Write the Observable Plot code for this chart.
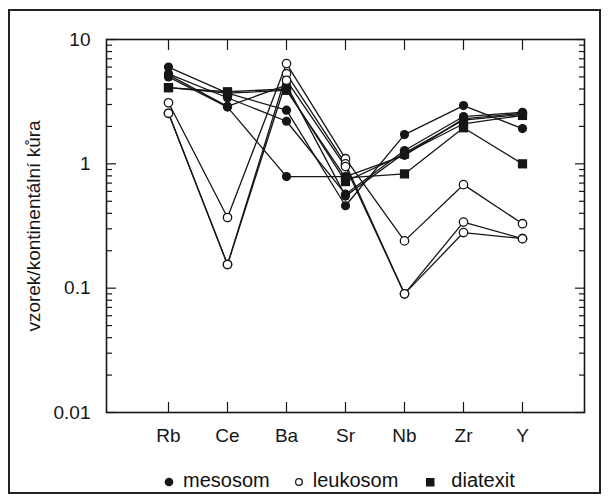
<!DOCTYPE html>
<html><head><meta charset="utf-8">
<script src="https://cdn.jsdelivr.net/npm/d3@7"></script>
<script src="https://cdn.jsdelivr.net/npm/@observablehq/plot@0.6"></script>
<style>
body{margin:0;background:#fff;font-family:"Liberation Sans",Arial,sans-serif;}
#wrap{position:relative;width:608px;height:500px;overflow:hidden;background:#fff;}
#border{position:absolute;left:8px;top:9px;width:589px;height:481px;border:2px solid #222;pointer-events:none;}
#legend{position:absolute;top:470px;left:164px;display:flex;align-items:center;font-size:20px;line-height:20px;color:#111;white-space:nowrap;}
#legend svg{display:block;}
</style></head>
<body><div id="wrap"><div id="chart"></div><div id="legend"></div><div id="border"></div></div>
<script>
const elements = ["Rb","Ce","Ba","Sr","Nb","Zr","Y"];

// mesosom samples
const mesosom1 = [6.0, 3.7, 2.7, 0.46, 1.72, 2.94, 1.92];
const mesosom2 = [5.3, 3.4, 2.2, 0.57, 1.28, 2.4, 2.6];
const mesosom3 = [5.2, 2.9, 4.3, 0.55, 1.22, 2.25, 2.5];
const mesosom4 = [5.0, 2.86, 0.79, 0.79, 1.17, 2.3, 2.55];
// leukosom samples
const leukosom1 = [3.1, 0.37, 6.4, 1.1, 0.24, 0.68, 0.33];
const leukosom2 = [2.55, 0.155, 5.3, 1.0, 0.09, 0.34, 0.25];
const leukosom3 = [2.55, 0.155, 4.7, 0.95, 0.09, 0.28, 0.25];
// diatexit samples
const diatexit1 = [4.1, 3.8, 4.0, 0.72, 1.2, 2.1, 2.45];
const diatexit2 = [4.1, 3.7, 3.9, 0.77, 0.83, 1.95, 1.0];

const yMajorTicks = [0.01, 0.1, 1, 10];
const yMinorTicks = [0.02,0.03,0.04,0.05,0.06,0.07,0.08,0.09,0.2,0.3,0.4,0.5,0.6,0.7,0.8,0.9,2,3,4,5,6,7,8,9];
const yLabel = "vzorek/kontinentální kůra";
const legendLabels = ["mesosom","leukosom","diatexit"];

const samples = [
  ["M1","mesosom",mesosom1],["M2","mesosom",mesosom2],["M3","mesosom",mesosom3],["M4","mesosom",mesosom4],
  ["L1","leukosom",leukosom1],["L2","leukosom",leukosom2],["L3","leukosom",leukosom3],
  ["D1","diatexit",diatexit1],["D2","diatexit",diatexit2]
];
const rows = samples.flatMap(([id, type, vals]) => vals.map((v, i) => ({id, type, el: elements[i], v})));

const ink = "#161616";
const plot = Plot.plot({
  width: 608, height: 460,
  marginLeft: 106, marginRight: 24, marginTop: 39, marginBottom: 48,
  style: {fontSize: "19px", fontFamily: "'Liberation Sans', Arial, sans-serif", color: ink, background: "transparent"},
  x: {type: "point", domain: elements, padding: 1},
  y: {type: "log", domain: [0.01, 10]},
  marks: [
    Plot.axisX({anchor: "bottom", tickSize: 0, tickPadding: 16, label: null}),
    Plot.axisX({anchor: "bottom", tickSize: -10, tickFormat: () => "", label: null, strokeWidth: 1.2}),
    Plot.axisX({anchor: "top", tickSize: -10, tickFormat: () => "", label: null, strokeWidth: 1.2}),
    Plot.axisY(yMajorTicks, {anchor: "left", tickSize: 0, tickPadding: 16, tickFormat: d => String(d), label: null}),
    Plot.axisY(yMajorTicks, {anchor: "left", tickSize: -10, tickFormat: () => "", label: null, strokeWidth: 1.2}),
    Plot.axisY(yMajorTicks, {anchor: "right", tickSize: -10, tickFormat: () => "", label: null, strokeWidth: 1.2}),
    Plot.axisY(yMinorTicks, {anchor: "left", tickSize: -6, tickFormat: () => "", label: null, strokeWidth: 1.2}),
    Plot.axisY(yMinorTicks, {anchor: "right", tickSize: -6, tickFormat: () => "", label: null, strokeWidth: 1.2}),
    Plot.text([yLabel], {text: d => d, frameAnchor: "left", dx: -73, rotate: -90, textAnchor: "middle", lineAnchor: "middle", fontSize: 19, fill: ink}),
    Plot.frame({stroke: ink, strokeWidth: 1.6}),
    Plot.line(rows, {x: "el", y: "v", z: "id", stroke: ink, strokeWidth: 1.3}),
    Plot.dot(rows.filter(d => d.type === "mesosom"), {x: "el", y: "v", r: 4.6, fill: ink, stroke: "none"}),
    Plot.dot(rows.filter(d => d.type === "leukosom"), {x: "el", y: "v", r: 4.2, fill: "white", stroke: ink, strokeWidth: 1.3}),
    Plot.dot(rows.filter(d => d.type === "diatexit"), {x: "el", y: "v", r: 5.2, symbol: "square", fill: ink, stroke: "none"})
  ]
});
document.getElementById("chart").appendChild(plot);

// legend
const lg = document.getElementById("legend");
const markers = [
  '<svg width="10" height="10"><circle cx="5" cy="5" r="4.3" fill="#161616"/></svg>',
  '<svg width="10" height="10"><circle cx="5" cy="5" r="3.4" fill="white" stroke="#161616" stroke-width="1.2"/></svg>',
  '<svg width="10" height="10"><rect x="1" y="1" width="8.5" height="8.5" fill="#161616"/></svg>'
];
const gapsAfterMarker = [9, 9, 16];
const gapsAfterText = [24, 27, 0];
legendLabels.forEach((lab, i) => {
  const m = document.createElement("span");
  m.innerHTML = markers[i];
  m.style.marginRight = gapsAfterMarker[i] + "px";
  m.style.marginTop = "3px";
  const t = document.createElement("span");
  t.textContent = lab;
  t.style.marginRight = gapsAfterText[i] + "px";
  lg.appendChild(m); lg.appendChild(t);
});
</script>
</body></html>
